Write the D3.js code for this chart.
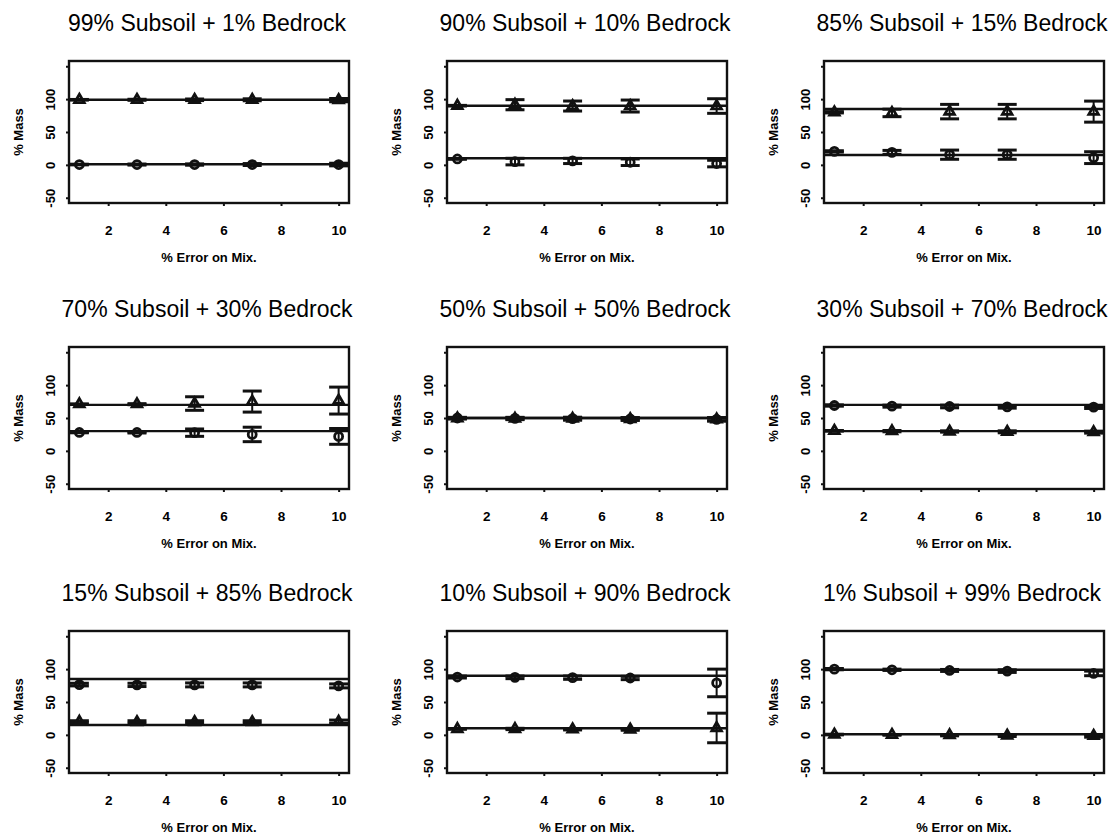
<!DOCTYPE html>
<html>
<head>
<meta charset="utf-8">
<script src="https://cdn.jsdelivr.net/npm/d3@7"></script>
<style>
  html, body { margin: 0; padding: 0; background: #fff; }
  svg { display: block; font-family: "Liberation Sans", Arial, Helvetica, sans-serif; }
</style>
</head>
<body>
<svg id="chart" width="1109" height="838"></svg>
<script>
// Error levels applied to the mixture (x axis) and axis ticks
const errorLevels = [1, 3, 5, 7, 10];
const xTickValues = [2, 4, 6, 8, 10];
const yTickValues = [-50, 0, 50, 100, 150];
const yLabelValues = [-50, 0, 50, 100];

// True composition of each mixture (one entry per panel)
const subsoilPct = [99, 90, 85, 70, 50, 30, 15, 10, 1];
const bedrockPct = [1, 10, 15, 30, 50, 70, 85, 90, 99];
const panelTitles = [
  "99% Subsoil + 1% Bedrock",
  "90% Subsoil + 10% Bedrock",
  "85% Subsoil + 15% Bedrock",
  "70% Subsoil + 30% Bedrock",
  "50% Subsoil + 50% Bedrock",
  "30% Subsoil + 70% Bedrock",
  "15% Subsoil + 85% Bedrock",
  "10% Subsoil + 90% Bedrock",
  "1% Subsoil + 99% Bedrock"
];

// Estimated subsoil contribution (mean and spread) at each error level
const subsoilMean = [
  [99, 99, 99, 99, 98.5],
  [90, 91.5, 89.5, 89.5, 89.5],
  [80, 79, 81, 81, 81],
  [71, 71, 72, 75, 76.5],
  [49.5, 49, 49, 48.5, 48],
  [30.5, 30, 29.5, 29, 28.5],
  [20, 19.5, 19.5, 19.5, 20],
  [9, 9, 8.5, 8, 10.5],
  [0.5, 0, -0.5, -1, -1.5]
];
const subsoilSd = [
  [0.5, 0.8, 1.2, 1.5, 2.5],
  [0.5, 7.7, 7.6, 9.1, 11.1],
  [1, 5.7, 11, 11, 16],
  [0.5, 0.8, 10.3, 16, 20.5],
  [1, 1.5, 2, 2, 2.5],
  [0.5, 1, 1, 1.5, 1.5],
  [1.5, 2, 2, 2, 2.5],
  [0.5, 1, 1, 1, 22.5],
  [0.5, 0.5, 1, 1.5, 2]
];

// Estimated bedrock contribution (mean and spread) at each error level
const bedrockMean = [
  [0.5, 0.5, 0.5, 0.5, 0.5],
  [9, 5, 6, 4, 2],
  [20.5, 19, 15.5, 15.5, 11],
  [28, 28, 27.7, 25, 22],
  [50, 49.5, 49, 48.5, 48],
  [69, 68, 67.5, 67, 66.5],
  [76.5, 76, 76, 76, 74.5],
  [88, 87.5, 87, 86.5, 79],
  [100, 99, 98, 97, 93.5]
];
const bedrockSd = [
  [0.5, 0.8, 1, 1.5, 2],
  [0.5, 5, 4, 5, 5],
  [1, 3, 7, 7, 9],
  [0.5, 0.8, 5.6, 11, 12],
  [1, 1.5, 2, 2, 2.5],
  [1, 1.5, 2, 2, 2],
  [2, 2.5, 3, 3, 3],
  [1.5, 2, 2.5, 2.5, 21],
  [1, 1, 1.5, 2, 3.5]
];

// Panel grid layout (plot-box origins)
const colLeft = [69, 447, 824];
const rowTop = [61, 347, 631];
const boxW = 280, boxH = 142;
const capHalf = 9.5;

const svg = d3.select("#chart");

panelTitles.forEach((title, i) => {
  const left = colLeft[i % 3];
  const top = rowTop[Math.floor(i / 3)];
  const g = svg.append("g").attr("transform", `translate(${left},${top})`);

  const x = d3.scaleLinear().domain([0.64, 10.36]).range([0, boxW]);
  const y = d3.scaleLinear().domain([-58, 158]).range([boxH, 0]);

  // title
  g.append("text")
    .attr("x", boxW / 2 - 2)
    .attr("y", -30)
    .attr("text-anchor", "middle")
    .attr("font-size", 23)
    .attr("fill", "#000")
    .text(title);

  // x axis
  const xAxis = g.append("g")
    .attr("transform", `translate(0,${boxH})`)
    .call(d3.axisBottom(x).tickValues(xTickValues).tickSize(3).tickFormat(d3.format("d")));
  xAxis.select(".domain").remove();
  xAxis.selectAll("line").attr("stroke", "#111").attr("stroke-width", 2);
  xAxis.selectAll("text")
    .attr("y", 27).attr("dy", "0.35em")
    .attr("font-size", 13.5).attr("font-weight", "bold")
    .attr("fill", "#000");

  // y axis
  const yAxis = g.append("g")
    .call(d3.axisLeft(y).tickValues(yTickValues).tickSize(3)
      .tickFormat(d => yLabelValues.includes(d) ? String(d) : ""));
  yAxis.select(".domain").remove();
  yAxis.selectAll("line").attr("stroke", "#111").attr("stroke-width", 2);
  yAxis.selectAll("text")
    .attr("x", 0).attr("dy", "0.35em")
    .attr("transform", "translate(-19,0) rotate(-90)")
    .attr("text-anchor", "middle")
    .attr("font-size", 13).attr("font-weight", "bold")
    .attr("fill", "#000");

  // axis titles
  g.append("text")
    .attr("x", boxW / 2)
    .attr("y", boxH + 59)
    .attr("text-anchor", "middle")
    .attr("font-size", 13).attr("font-weight", "bold")
    .attr("fill", "#000")
    .text("% Error on Mix.");
  g.append("text")
    .attr("transform", `translate(-51,${boxH / 2}) rotate(-90)`)
    .attr("dy", "0.35em")
    .attr("text-anchor", "middle")
    .attr("font-size", 13).attr("font-weight", "bold")
    .attr("fill", "#000")
    .text("% Mass");

  // reference lines at the true composition
  [subsoilPct[i], bedrockPct[i]].forEach(v => {
    g.append("line")
      .attr("x1", 0).attr("x2", boxW)
      .attr("y1", y(v)).attr("y2", y(v))
      .attr("stroke", "#111").attr("stroke-width", 2.4);
  });

  // series: subsoil (triangles) and bedrock (circles)
  const series = [
    { mean: subsoilMean[i], sd: subsoilSd[i], shape: d3.symbolTriangle, size: 40 },
    { mean: bedrockMean[i], sd: bedrockSd[i], shape: d3.symbolCircle, size: 50 }
  ];

  series.forEach(s => {
    const pts = errorLevels.map((e, k) => ({ e, m: s.mean[k], sd: s.sd[k] }));
    const sg = g.append("g");

    // error bars
    sg.selectAll("line.bar").data(pts).join("line")
      .attr("class", "bar")
      .attr("x1", d => x(d.e)).attr("x2", d => x(d.e))
      .attr("y1", d => y(d.m - d.sd)).attr("y2", d => y(d.m + d.sd))
      .attr("stroke", "#111").attr("stroke-width", 2);
    ["lo", "hi"].forEach(side => {
      sg.selectAll(`line.cap-${side}`).data(pts).join("line")
        .attr("class", `cap-${side}`)
        .attr("x1", d => x(d.e) - capHalf).attr("x2", d => x(d.e) + capHalf)
        .attr("y1", d => y(side === "lo" ? d.m - d.sd : d.m + d.sd))
        .attr("y2", d => y(side === "lo" ? d.m - d.sd : d.m + d.sd))
        .attr("stroke", "#111").attr("stroke-width", 3);
    });

    // markers
    sg.selectAll("path.pt").data(pts).join("path")
      .attr("class", "pt")
      .attr("transform", d => `translate(${x(d.e)},${y(d.m)})`)
      .attr("d", d3.symbol().type(s.shape).size(s.size))
      .attr("fill", "none")
      .attr("stroke", "#111").attr("stroke-width", 2.8);
  });

  // plot box
  g.append("rect")
    .attr("x", 0).attr("y", 0)
    .attr("width", boxW).attr("height", boxH)
    .attr("fill", "none")
    .attr("stroke", "#111").attr("stroke-width", 2.4);
});
</script>
</body>
</html>
